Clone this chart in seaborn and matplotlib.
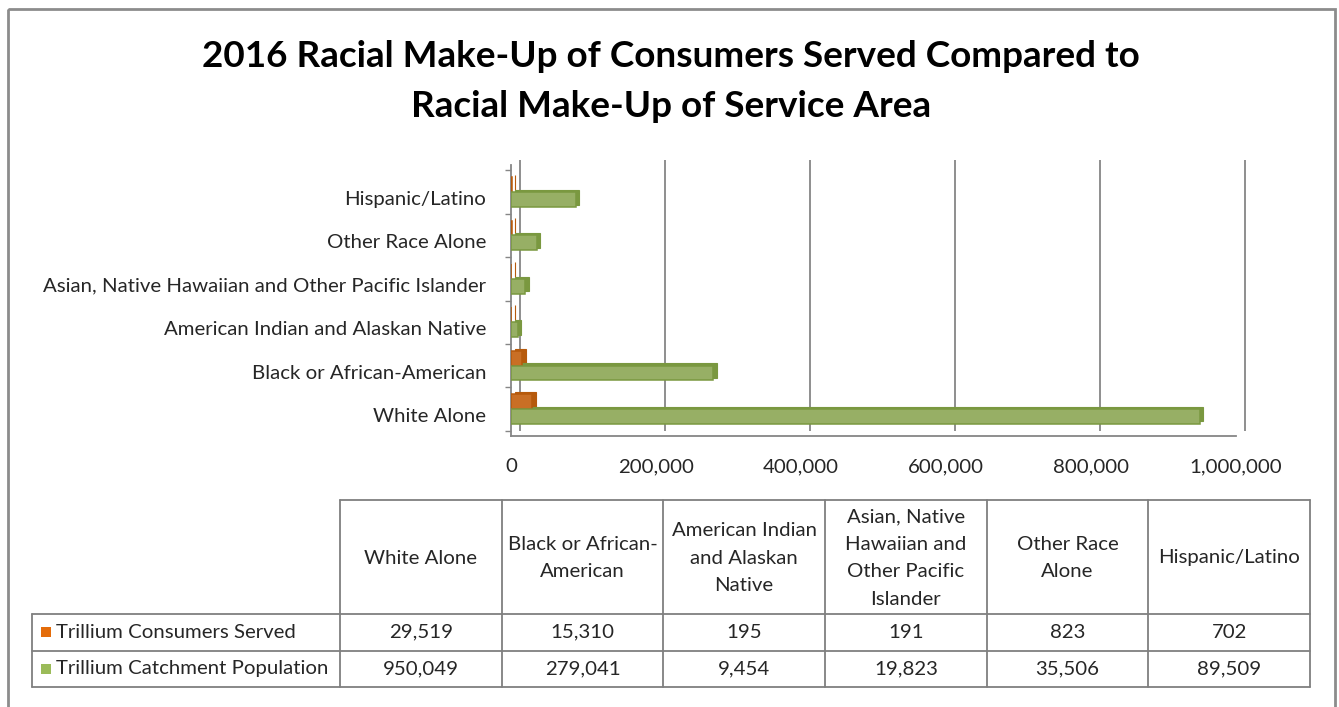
import numpy as np
import pandas as pd
import matplotlib
matplotlib.use("Agg")
import matplotlib.pyplot as plt
import matplotlib.transforms as mtransforms
from matplotlib.patches import Rectangle
import seaborn as sns

# ---- data -------------------------------------------------------------
categories = [
    "White Alone",
    "Black or African-American",
    "American Indian and Alaskan Native",
    "Asian, Native Hawaiian and Other Pacific Islander",
    "Other Race Alone",
    "Hispanic/Latino",
]
header_labels = [
    "White Alone",
    "Black or African-\nAmerican",
    "American Indian\nand Alaskan\nNative",
    "Asian, Native\nHawaiian and\nOther Pacific\nIslander",
    "Other Race\nAlone",
    "Hispanic/Latino",
]
series_names = ["Trillium Consumers Served", "Trillium Catchment Population"]
consumers_served = [29519, 15310, 195, 191, 823, 702]
catchment_population = [950049, 279041, 9454, 19823, 35506, 89509]
series_colors = ["#E46C0A", "#9BBB59"]
edge_colors = ["#B65A0C", "#7A9840"]
x_ticks = [0, 200000, 400000, 600000, 800000, 1000000]
title = "2016 Racial Make-Up of Consumers Served Compared to\nRacial Make-Up of Service Area"

# ---- style ------------------------------------------------------------
sns.set_theme(style="white")
plt.rcParams["font.family"] = ["Lato", "DejaVu Sans"]
TEXT = "#262626"
LINE = "#7F7F7F"
FS = 14.7

W, H = 1339, 707
fig = plt.figure(figsize=(W / 100, H / 100), dpi=100)

# pixel-space overlay for border, title and the data table
ov = fig.add_axes([0, 0, 1, 1])
ov.set_xlim(0, W)
ov.set_ylim(H, 0)
ov.axis("off")
ov.add_patch(Rectangle((8, 9), W - 4 - 8, H + 10, fill=False, edgecolor="#8C8C8C", lw=2))
ov.text(671, 40, title, ha="center", va="top", fontsize=26.6, fontweight="bold",
        color="black", linespacing=1.62)

# ---- bar chart --------------------------------------------------------
ax_l, ax_r, ax_t, ax_b = 511, 1236, 165, 436
ax = fig.add_axes([ax_l / W, 1 - ax_b / H, (ax_r - ax_l) / W, (ax_b - ax_t) / H])
ax.set_facecolor("none")

df = pd.DataFrame({
    "Race": categories * 2,
    "Series": [series_names[0]] * len(categories) + [series_names[1]] * len(categories),
    "Count": consumers_served + catchment_population,
})
sns.barplot(data=df, y="Race", x="Count", hue="Series", order=categories[::-1],
            hue_order=series_names, palette=series_colors, orient="h",
            width=0.68, legend=False, ax=ax, zorder=3)

# give each bar a shallow darker depth face behind its front face
depth = mtransforms.ScaledTranslation(0.035, 0.022, fig.dpi_scale_trans)
for cont, ec in zip(ax.containers, edge_colors):
    for bar in cont:
        bar.set_edgecolor(ec)
        bar.set_linewidth(1.1)
        back = Rectangle(bar.get_xy(), bar.get_width(), bar.get_height(),
                         facecolor=ec, edgecolor=ec, lw=0.8,
                         transform=ax.transData + depth, zorder=2.5)
        ax.add_patch(back)

ax.set_xlim(0, 1000000)
ax.set_xticks(x_ticks)
ax.set_xticklabels([f"{v:,}" for v in x_ticks])
ax.set_xlabel("")
ax.set_ylabel("")

# back-wall gridlines, shifted for a shallow depth effect
wall = ax.get_xaxis_transform() + mtransforms.ScaledTranslation(0.09, 0.05, fig.dpi_scale_trans)
ax.vlines(x_ticks, 0, 1, transform=wall, colors="#868686", lw=1.3, zorder=1, clip_on=False)

for side in ["top", "right"]:
    ax.spines[side].set_visible(False)
for side in ["left", "bottom"]:
    ax.spines[side].set_color("#868686")
    ax.spines[side].set_linewidth(1.3)

ax.tick_params(axis="x", length=4, width=1, color="#868686", pad=12, labelsize=FS, labelcolor=TEXT)
ax.tick_params(axis="y", length=0, pad=18, labelsize=FS, labelcolor=TEXT)
ax.set_yticks(np.arange(len(categories) + 1) - 0.5, minor=True)
ax.tick_params(axis="y", which="minor", length=4, width=1, color="#868686", left=True)
shift = mtransforms.ScaledTranslation(0, -0.06, fig.dpi_scale_trans)
for lab in ax.get_yticklabels():
    lab.set_transform(lab.get_transform() + shift)

# ---- data table -------------------------------------------------------
col_edges = np.linspace(340, 1310, len(categories) + 1)
lab_left = 32
head_top, head_bot = 500, 614
row_edges = [head_bot, 650.5, 687]
lw = 1.3

ov.plot([col_edges[0], col_edges[-1]], [head_top, head_top], color=LINE, lw=lw)
for x in col_edges:
    ov.plot([x, x], [head_top, row_edges[-1]], color=LINE, lw=lw)
ov.plot([lab_left, lab_left], [row_edges[0], row_edges[-1]], color=LINE, lw=lw)
for y in row_edges:
    ov.plot([lab_left, col_edges[-1]], [y, y], color=LINE, lw=lw)

centers = (col_edges[:-1] + col_edges[1:]) / 2
for cx, txt in zip(centers, header_labels):
    ov.text(cx, (head_top + head_bot) / 2 + 1, txt, ha="center", va="center",
            fontsize=FS, color=TEXT, linespacing=1.75)

for r, (name, vals, col) in enumerate(zip(series_names,
                                           [consumers_served, catchment_population],
                                           series_colors)):
    cy = (row_edges[r] + row_edges[r + 1]) / 2
    ov.add_patch(Rectangle((41, cy - 5), 10, 10, facecolor=col, edgecolor="none"))
    ov.text(56, cy, name, ha="left", va="center", fontsize=FS, color=TEXT)
    for cx, v in zip(centers, vals):
        ov.text(cx, cy, f"{v:,}", ha="center", va="center", fontsize=FS, color=TEXT)

fig.savefig("out.png", dpi=100)
